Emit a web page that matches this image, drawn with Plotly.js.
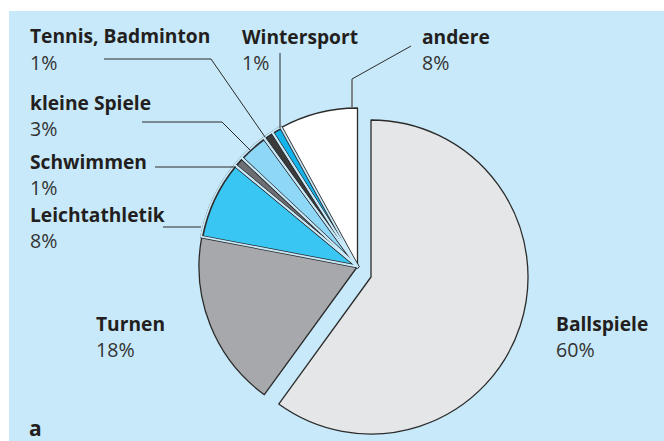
<!DOCTYPE html>
<html><head><meta charset="utf-8">
<script src="https://cdn.plot.ly/plotly-3.0.1.min.js"></script>
<style>html,body{margin:0;padding:0;background:#fff}#chart{width:664px;height:441px}</style>
</head><body><div id="chart"></div>
<script>
// ---- data ----
const labels = ['Ballspiele','Turnen','Leichtathletik','Schwimmen','kleine Spiele','Tennis, Badminton','Wintersport','andere'];
const percents = [60,18,8,1,3,1,1,8];
const panelLetter = 'a';

// ---- styles ----
const sliceColors = ['#e5e6e8','#a7a8ab','#3ac6f3','#6d6e71','#8fd7f7','#3b3b3c','#13b4ec','#ffffff'];
const W=664,H=441;
const BG='#c8e9f9', EDGE='#2b2b2b', NONE='rgba(0,0,0,0)';
const FONT='"Open Sans", sans-serif';
const X=p=>p/W, Y=p=>1-p/H;
function dom(cx,cy,r,pull){const s=2*r*(1+(pull||0));return {x:[X(cx-s/2),X(cx+s/2)],y:[Y(cy+s/2),Y(cy-s/2)]};}

const C={x:357.5,y:266.5,r:158.5};   // main pie
const B={x:371,y:277,r:157};         // exploded Ballspiele
const idx=labels.map((_,i)=>i);
const pick=(set,f,other)=>idx.map(i=>set.includes(i)?f(i):other);

function pie(domain,colors,widths,lineColor,pull){
  return {type:'pie',labels:labels,values:percents,sort:false,direction:'clockwise',rotation:0,
    textinfo:'none',hoverinfo:'skip',showlegend:false,domain:domain,pull:pull||0,
    marker:{colors:colors,line:{color:lineColor,width:widths}}};
}
const THICK=3.4, THIN=1.3, GAP=1.8;
const traces=[
  pie(dom(C.x,C.y,C.r), pick([7],i=>sliceColors[i],NONE), pick([7],()=>THIN,0), EDGE),
  pie(dom(C.x,C.y,C.r), pick([1,2,3,4,5,6],i=>sliceColors[i],NONE), pick([1,2,3,4,5,6],i=>i===1?THIN:THICK,0), EDGE),
  pie(dom(C.x,C.y,C.r+0.8), idx.map(()=>NONE), pick([2,3,4,5,6],()=>GAP,0), BG),
  pie(dom(B.x,B.y,B.r), pick([0],i=>sliceColors[i],NONE), pick([0],()=>THIN,0), EDGE)
];

// label placement (pixels): left x, baseline of name line
const labelPos=[[555,331],[95,331],[29,222],[29,169],[29,110],[29,43.5],[241,44],[421,44]];
const FS=19.2, LINE=26, MID=7.5;
const annotations=[];
labels.forEach((lab,i)=>{
  const [lx,base]=labelPos[i];
  annotations.push({xref:'paper',yref:'paper',x:X(lx-1),y:Y(base-MID),xanchor:'left',yanchor:'middle',showarrow:false,
    text:lab,font:{family:FONT,size:FS,color:'#231f20',weight:700}});
  annotations.push({xref:'paper',yref:'paper',x:X(lx-1),y:Y(base+LINE-MID),xanchor:'left',yanchor:'middle',showarrow:false,
    text:percents[i]+'%',font:{family:FONT,size:FS+0.4,color:'#333333'}});
});
annotations.push({xref:'paper',yref:'paper',x:X(27),y:Y(435-MID),xanchor:'left',yanchor:'middle',showarrow:false,
  text:panelLetter,font:{family:FONT,size:21,color:'#231f20',weight:700}});

// leader lines (pixels)
const leaders=[
  {pts:[[104,59],[211,59],[265,137]]},
  {pts:[[280,53],[280,128]]},
  {pts:[[411,46],[352,79]]},
  {pts:[[352,79],[352,108]],color:'#6b6d70',width:1.6},
  {pts:[[142,122],[222,122],[250,150]]},
  {pts:[[155,167],[236,167]]},
  {pts:[[163,227],[201,227]]}
];
const shapes=[{type:'rect',xref:'paper',yref:'paper',x0:X(9),x1:1,y0:0,y1:Y(11),fillcolor:BG,line:{width:0},layer:'below'}];
leaders.forEach(l=>{
  const d=l.pts.map((p,k)=>(k?'L':'M')+X(p[0])+','+Y(p[1])).join(' ');
  shapes.push({type:'path',xref:'paper',yref:'paper',path:d,line:{color:l.color||EDGE,width:l.width||1},layer:'above'});
});

Plotly.newPlot('chart',traces,{width:W,height:H,margin:{l:0,r:0,t:0,b:0},paper_bgcolor:'#ffffff',plot_bgcolor:'#ffffff',
  shapes:shapes,annotations:annotations,showlegend:false},{displayModeBar:false,staticPlot:true});
</script></body></html>
